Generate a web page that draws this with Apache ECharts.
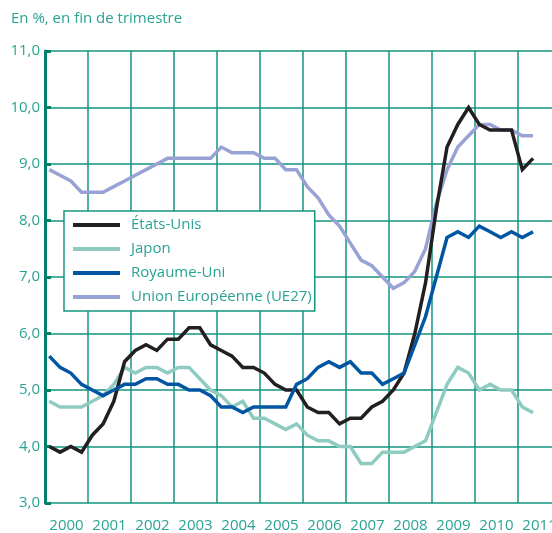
<!DOCTYPE html>
<html>
<head>
<meta charset="utf-8">
<script src="https://cdn.jsdelivr.net/npm/echarts@6/dist/echarts.min.js"></script>
<style>
  html, body { margin: 0; padding: 0; background: #fff; }
  #chart { width: 552px; height: 533px; }
</style>
</head>
<body>
<div id="chart"></div>
<script>
// années affichées sous l'axe
var years = ['2000', '2001', '2002', '2003', '2004', '2005', '2006', '2007', '2008', '2009', '2010', '2011'];
// taux de chômage trimestriels, 2000T1 -> 2011T2
var etatsUnis = [4.0, 3.9, 4.0, 3.9, 4.2, 4.4, 4.8, 5.5, 5.7, 5.8, 5.7, 5.9, 5.9, 6.1, 6.1, 5.8,
  5.7, 5.6, 5.4, 5.4, 5.3, 5.1, 5.0, 5.0, 4.7, 4.6, 4.6, 4.4, 4.5, 4.5, 4.7, 4.8,
  5.0, 5.3, 6.0, 6.9, 8.2, 9.3, 9.7, 10.0, 9.7, 9.6, 9.6, 9.6, 8.9, 9.1];
var japon = [4.8, 4.7, 4.7, 4.7, 4.8, 4.9, 5.1, 5.4, 5.3, 5.4, 5.4, 5.3, 5.4, 5.4, 5.2, 5.0,
  4.9, 4.7, 4.8, 4.5, 4.5, 4.4, 4.3, 4.4, 4.2, 4.1, 4.1, 4.0, 4.0, 3.7, 3.7, 3.9,
  3.9, 3.9, 4.0, 4.1, 4.6, 5.1, 5.4, 5.3, 5.0, 5.1, 5.0, 5.0, 4.7, 4.6];
var royaumeUni = [5.6, 5.4, 5.3, 5.1, 5.0, 4.9, 5.0, 5.1, 5.1, 5.2, 5.2, 5.1, 5.1, 5.0, 5.0, 4.9,
  4.7, 4.7, 4.6, 4.7, 4.7, 4.7, 4.7, 5.1, 5.2, 5.4, 5.5, 5.4, 5.5, 5.3, 5.3, 5.1,
  5.2, 5.3, 5.8, 6.3, 7.0, 7.7, 7.8, 7.7, 7.9, 7.8, 7.7, 7.8, 7.7, 7.8];
var ue27 = [8.9, 8.8, 8.7, 8.5, 8.5, 8.5, 8.6, 8.7, 8.8, 8.9, 9.0, 9.1, 9.1, 9.1, 9.1, 9.1,
  9.3, 9.2, 9.2, 9.2, 9.1, 9.1, 8.9, 8.9, 8.6, 8.4, 8.1, 7.9, 7.6, 7.3, 7.2, 7.0,
  6.8, 6.9, 7.1, 7.5, 8.3, 8.9, 9.3, 9.5, 9.7, 9.7, 9.6, 9.6, 9.5, 9.5];

var teal = '#13957f';
var tealText = '#2aa393';
var font = 'Open Sans';

// position de chaque trimestre sur l'axe des temps
function toPoints(values) {
  return values.map(function (v, i) {
    return [2000 + (i + 0.4) / 4, v];
  });
}

function makeSeries(name, values, color, z) {
  return {
    name: name,
    type: 'line',
    data: toPoints(values),
    xAxisIndex: 0,
    symbol: 'none',
    z: z,
    lineStyle: { color: color, width: 3.5, join: 'miter' },
    itemStyle: { color: color }
  };
}

var myChart = echarts.init(document.getElementById('chart'));
var option = {
  animation: false,
  backgroundColor: '#fff',
  title: {
    text: 'En %, en fin de trimestre',
    left: 11,
    top: 11,
    padding: 0,
    textStyle: { color: tealText, fontSize: 15, fontWeight: 'normal', fontFamily: font }
  },
  legend: {
    orient: 'vertical',
    left: 64,
    top: 211,
    padding: [6, 3, 6, 9],
    itemGap: 8,
    itemWidth: 47,
    itemHeight: 4,
    icon: 'rect',
    backgroundColor: '#fff',
    borderColor: teal,
    borderWidth: 1.5,
    borderRadius: 0,
    selectedMode: false,
    textStyle: { color: tealText, fontSize: 15, lineHeight: 16, fontFamily: font, padding: [0, 0, 0, 6] },
    data: ['États-Unis', 'Japon', 'Royaume-Uni', 'Union Européenne (UE27)']
  },
  // la zone de tracé déborde à droite : 2011 est coupé
  grid: { left: 45, width: 516, top: 51, bottom: 30, outerBoundsMode: 'none', containLabel: false },
  xAxis: [{
    type: 'value',
    min: 2000,
    max: 2012,
    interval: 1,
    axisLine: { show: false },
    axisTick: { show: false },
    axisLabel: { show: false },
    splitLine: { show: true, lineStyle: { color: teal, width: 1.5 } }
  }, {
    type: 'category',
    data: years,
    boundaryGap: true,
    position: 'bottom',
    axisLine: { show: false },
    axisTick: { show: false },
    splitLine: { show: false },
    axisLabel: { interval: 0, margin: 15, color: tealText, fontSize: 15, fontFamily: font }
  }],
  yAxis: {
    type: 'value',
    min: 3,
    max: 11,
    interval: 1,
    axisLine: { show: true, lineStyle: { color: '#00806c', width: 3 } },
    axisTick: { show: true, inside: true, length: 6, lineStyle: { color: '#00806c', width: 3 } },
    axisLabel: {
      margin: 5,
      color: tealText,
      fontSize: 15,
      fontFamily: font,
      formatter: function (v) { return v.toFixed(1).replace('.', ','); }
    },
    splitLine: { show: true, lineStyle: { color: teal, width: 1.5 } }
  },
  series: [
    makeSeries('États-Unis', etatsUnis, '#231f20', 4),
    makeSeries('Japon', japon, '#8fcbc0', 3),
    makeSeries('Royaume-Uni', royaumeUni, '#0056a3', 5),
    makeSeries('Union Européenne (UE27)', ue27, '#99a2d4', 2)
  ]
};
myChart.setOption(option);
</script>
</body>
</html>
